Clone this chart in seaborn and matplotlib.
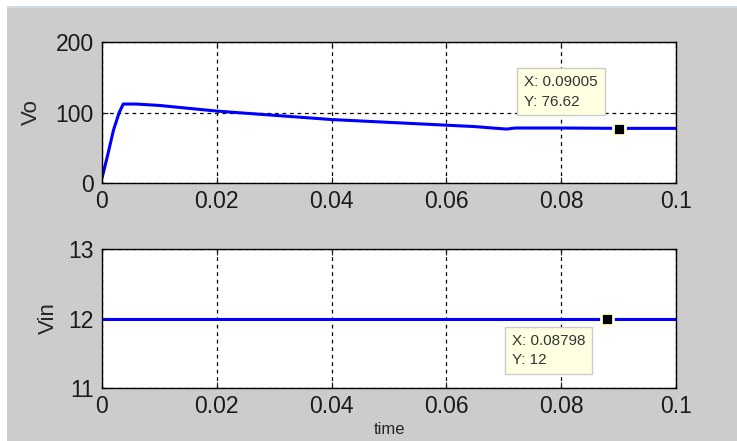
import numpy as np
import pandas as pd
import matplotlib
matplotlib.use("Agg")
import matplotlib.pyplot as plt
from matplotlib.patches import Rectangle
import seaborn as sns

# Vo trace
vo_time = [0, 0.001, 0.002, 0.003, 0.0037, 0.006, 0.01, 0.015, 0.02, 0.025, 0.03,
           0.035, 0.04, 0.045, 0.05, 0.055, 0.06, 0.065, 0.068, 0.0705, 0.072, 0.08, 0.09, 0.1]
vo_vals = [7, 40, 75, 100, 112, 112, 110, 106, 102, 99, 96,
           93, 90, 88, 86, 84, 82, 80, 78, 76.5, 78, 78, 77.5, 77.5]

vin_time = [0, 0.1]
vin_vals = [12, 12]

tips = {"vo": (0.09005, 76.62), "vin": (0.08798, 12)}
xticks = [0, 0.02, 0.04, 0.06, 0.08, 0.1]
xticklabels = ["0", "0.02", "0.04", "0.06", "0.08", "0.1"]

sns.set_style("ticks")
plt.rcParams["font.family"] = ["Liberation Sans", "DejaVu Sans"]

W, H = 737, 441
fig = plt.figure(figsize=(W / 100, H / 100), dpi=100)
fig.patch.set_facecolor("white")
fig.patches.append(Rectangle((7 / W, 0), 1, 1 - 8 / H, transform=fig.transFigure,
                             facecolor="#cccccc", edgecolor="none", zorder=-10))
fig.patches.append(Rectangle((7 / W, 1 - 8 / H), 1, 2 / H, transform=fig.transFigure,
                             facecolor="#cfdbe8", edgecolor="none", zorder=-10))

ax1 = fig.add_axes([102 / W, 1 - 183 / H, 574 / W, 141 / H])
ax2 = fig.add_axes([102 / W, 1 - 388 / H, 574 / W, 139 / H])

df_vo = pd.DataFrame({"time": vo_time, "Vo": vo_vals})
df_vin = pd.DataFrame({"time": vin_time, "Vin": vin_vals})

sns.lineplot(data=df_vo, x="time", y="Vo", ax=ax1, color="#0000ff", lw=2.2)
sns.lineplot(data=df_vin, x="time", y="Vin", ax=ax2, color="#0000ff", lw=2.2)


def style(ax, ylim, yticks, ylabel, key, box_xy, lpad):
    ax.set_xlim(0, 0.1)
    ax.set_ylim(*ylim)
    ax.set_xticks(xticks)
    ax.set_xticklabels(xticklabels)
    ax.set_yticks(yticks)
    ax.set_facecolor("white")
    for s in ax.spines.values():
        s.set_visible(True)
        s.set_color("black")
        s.set_linewidth(1.0)
    ax.tick_params(direction="in", length=4, width=0.8, labelsize=16.5, colors="#1a1a1a",
                   top=True, right=True)
    ax.tick_params(axis="y", pad=6)
    ax.tick_params(axis="x", pad=5)
    ax.grid(True, color="black", linestyle=(0, (3, 3)), linewidth=0.9)
    ax.set_ylabel(ylabel, fontsize=16, labelpad=lpad)
    ax.set_xlabel("")
    tx, ty = tips[key]
    ax.plot([tx], [ty], marker="s", markersize=9, color="black",
            markeredgecolor="#ffffe1", markeredgewidth=2, zorder=5)
    ax.annotate(f"X: {tx:g}\nY: {ty:g}", xy=box_xy, xycoords="figure pixels",
                fontsize=11, color="#333333", va="top", ha="left", linespacing=1.5,
                bbox=dict(boxstyle="square,pad=0.45", facecolor="#ffffe1",
                          edgecolor="#cccccc", linewidth=1), zorder=6)


style(ax1, (0, 200), [0, 100, 200], "Vo", "vo", (524, H - 75), 10)
style(ax2, (11, 13), [11, 12, 13], "Vin", "vin", (512, H - 334), 7)
ax2.set_xlabel("time", fontsize=12, labelpad=3)

fig.savefig("out.png", dpi=100, facecolor=fig.get_facecolor())
